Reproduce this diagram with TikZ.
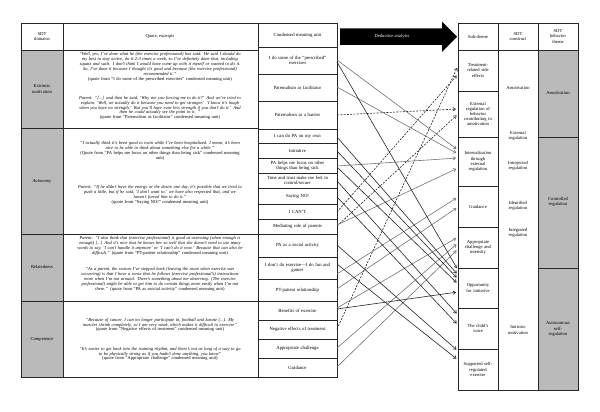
\documentclass[tikz,border=0pt]{standalone}
\usepackage{fontspec}
\setmainfont{Liberation Serif}
\usetikzlibrary{arrows.meta}
\newcommand\tcell[7]{\node[#6,anchor=north west,minimum width={(#4-#2)*1pt},minimum height={(#5-#3)*1pt}] (#1) at (#2,#3) {#7};}
\begin{document}
\begin{tikzpicture}[x=1pt,y=-1pt,
  mytl/.style={draw=black!85, line width=0.7pt},
  mybx/.style={draw=black!85, line width=0.7pt, inner sep=0pt, outer sep=0pt},
  myqt/.style={font=\fontsize{4.5}{4.85}\selectfont\itshape, align=center, text width=200pt, inner sep=0pt, text=black},
  mycmu/.style={mybx, font=\fontsize{4.7}{5.1}\selectfont, align=center, text width=74pt, text=black},
  mysbt/.style={mybx, font=\fontsize{4.6}{5.2}\selectfont, align=center, text width=38pt, text=black},
  mylb/.style={font=\fontsize{4.6}{5.2}\selectfont, align=center, inner sep=0pt, text=black},
  myar/.style={line width=0.6pt, shorten >=2pt, -{Straight Barb[length=2.5pt,width=3.5pt]}},
  mydk/.style={myar, draw=black!85},
  mygy/.style={myar, draw=black!55},
  myds/.style={myar, draw=black!85, dash pattern=on 2pt off 1.3pt}
]
\useasboundingbox (0,0) rectangle (600,412);
\fill[white] (0,0) rectangle (600,412);
% ---------- left table ----------
\fill[black!27] (21,50) rectangle (63,377);
\draw[mytl] (21,23) rectangle (258,377);
\draw[mytl] (63,23) -- (63,377);
\foreach \yy in {50,128,234,301} {\draw[mytl] (21,\yy) -- (258,\yy);}
\node[mylb] (h1) at (42,36.5) {SDT\\domains};
\node[mylb] (h2) at (160,36.5) {Quote, excerpts};
\node[mylb] (d1) at (42,89) {Extrinsic\\motivation};
\node[mylb, font=\fontsize{4.6}{5.2}\selectfont\itshape] (d2) at (42,181) {Autonomy};
\node[mylb] (d3) at (42,267) {Relatedness};
\node[mylb] (d4) at (42,339) {Competence};
% quotes
\node[myqt] (q1) at (160,67) {“Well, yes, I’ve done what he (the exercise professional) has said. He said I should do\\
my best to stay active, do it 2-3 times a week, so I’ve definitely done that, including\\
squats and such. I don’t think I would have come up with it myself or wanted to do it.\\
So, I’ve done it because I thought it’s good and because (the exercise professional)\\
recommended it.”\\
\upshape (quote from “I do some of the prescribed exercises” condensed meaning unit)};
\node[myqt] (q2) at (160,108) {Parent: “[...] and then he said, ‘Why are you forcing me to do it?’ And we’ve tried to\\
explain, ‘Well, we actually do it because you need to get stronger.’ ‘I know it’s tough\\
when you have no strength.’ But you’ll have even less strength if you don’t do it.’ And\\
then he could actually see the point in it. ”\\
\upshape (quote from “Paternalism as facilitator” condensed meaning unit)};
\node[myqt] (q3) at (160,151) {“I actually think it’s been good to train while I’ve been hospitalized. I mean, it’s been\\
nice to be able to think about something else for a while.”\\
\upshape (Quote from “PA helps me focus on other things than being sick” condensed meaning\\
\upshape unit)};
\node[myqt] (q4) at (160,195) {Parent: “If he didn’t have the energy or the desire one day, it’s possible that we tried to\\
push a little, but if he said, ‘I don’t want to,’ we have also respected that, and we\\
haven’t forced him to do it.”\\
\upshape (quote from “Saying NO!” condensed meaning unit)};
\node[myqt] (q5) at (160,246) {Parent: “I also think that (exercise professional) is good at assessing (when enough is\\
enough) [...] And it’s nice that he knows her so well that she doesn’t need to use many\\
words to say, ‘I can’t handle it anymore’ or ‘I can’t do it now.’ Because that can also be\\
difficult.” {\upshape (quote from “PT-patient relationship” condensed meaning unit)}};
\node[myqt] (q6) at (160,279.5) {“As a parent, the reason I’ve stepped back (leaving the room when exercise was\\
occurring) is that I have a sense that he follows (exercise professional’s) instructions\\
more when I’m not around. There’s something about me observing. (The exercise\\
professional) might be able to get him to do certain things more easily when I’m not\\
there.” {\upshape (quote from “PA as asocial activity” condensed meaning unit)}};
\node[myqt] (q7) at (160,325) {“Because of cancer, I can no longer participate in, football and karate (...). My\\
muscles shrink completely, so I am very weak, which makes it difficult to exercise”\\
\upshape (quote from “Negative effects of treatment” condensed meaning unit)};
\node[myqt] (q8) at (160,354) {“It’s easier to get back into the training rhythm, and there’s not as long of a way to go\\
to be physically strong as if you hadn’t done anything, you know”\\
\upshape (quote from “Appropriate challenge” condensed meaning unit)};
% ---------- condensed meaning units ----------
\tcell{c0}{258}{23}{337}{47}{mycmu}{Condensed meaning unit}
\tcell{c1}{258}{47}{337}{74}{mycmu}{I do some of the “prescribed”\\exercises}
\tcell{c2}{258}{74}{337}{101}{mycmu}{Paternalism as facilitator}
\tcell{c3}{258}{101}{337}{129}{mycmu}{Paternalism as a barrier}
\tcell{c4}{258}{129}{337}{143}{mycmu}{I can do PA on my own}
\tcell{c5}{258}{143}{337}{158}{mycmu}{Initiative}
\tcell{c6}{258}{158}{337}{173}{mycmu}{PA helps me focus on other\\things than being sick}
\tcell{c7}{258}{173}{337}{188}{mycmu}{Time and trust make me feel in\\control/secure}
\tcell{c8}{258}{188}{337}{204}{mycmu}{Saying NO!}
\tcell{c9}{258}{204}{337}{219}{mycmu}{I CAN’T}
\tcell{c10}{258}{219}{337}{234}{mycmu}{Mediating role of parents}
\tcell{c11}{258}{234}{337}{257}{mycmu}{PA as a social activity}
\tcell{c12}{258}{257}{337}{279}{mycmu}{I don’t do exercise—I do fun and\\games}
\tcell{c13}{258}{279}{337}{301}{mycmu}{PT-patient relationship}
\tcell{c14}{258}{301}{337}{320}{mycmu}{Benefits of exercise}
\tcell{c15}{258}{320}{337}{339}{mycmu}{Negative effects of treatment}
\tcell{c16}{258}{339}{337}{358}{mycmu}{Appropriate challenge}
\tcell{c17}{258}{358}{337}{377}{mycmu}{Guidance}
% ---------- big arrow ----------
\fill[black] (340,28.5) -- (442,28.5) -- (442,21.5) -- (457,36.75) -- (442,52) -- (442,45) -- (340,45) -- cycle;
\node[mylb, text=white] (da) at (392,36.75) {Deductive analysis};
% ---------- right table ----------
\fill[black!27] (538,50) rectangle (578,390);
\draw[mytl] (458,23) rectangle (578,390);
\draw[mytl] (498,23) -- (498,390);
\draw[mytl] (538,23) -- (538,390);
\draw[mytl] (458,50) -- (578,50);
\draw[mytl] (538,137) -- (578,137);
\draw[mytl] (538,268) -- (578,268);
\tcell{s0}{458}{23}{498}{50}{mysbt}{Sub-theme}
\tcell{s1}{458}{50}{498}{91}{mysbt}{Treatment-\\related side\\effects}
\tcell{s2}{458}{91}{498}{137}{mysbt}{External\\regulation of\\behavior\\contributing to\\amotivation}
\tcell{s3}{458}{137}{498}{186}{mysbt}{Internalization\\through\\external\\regulation}
\tcell{s4}{458}{186}{498}{227}{mysbt}{Guidance}
\tcell{s5}{458}{227}{498}{268}{mysbt}{Appropriate\\challenge and\\intensity}
\tcell{s6}{458}{268}{498}{308}{mysbt}{Opportunity\\for initiative}
\tcell{s7}{458}{308}{498}{349}{mysbt}{The child’s\\voice}
\tcell{s8}{458}{349}{498}{390}{mysbt}{Supported self-\\regulated\\exercise}
\node[mylb] (k0) at (518,36.5) {SDT\\construct};
\node[mylb] (k1) at (518,88) {Amotivation};
\node[mylb] (k2) at (518,136) {External\\regulation};
\node[mylb] (k3) at (518,166) {Introjected\\regulation};
\node[mylb] (k4) at (518,206) {Identified\\regulation};
\node[mylb] (k5) at (518,233) {Integrated\\regulation};
\node[mylb] (k6) at (518,330) {Intrinsic\\motivation};
\node[mylb] (b0) at (558,36.5) {SDT\\behavior\\theme};
\node[mylb] (b1) at (558,93) {Amotivation};
\node[mylb] (b2) at (558,202) {Controlled\\regulation};
\node[mylb] (b3) at (558,329) {Autonomous\\self-\\regulation};
% ---------- connectors ----------
% dashed
\draw[myds] (c3.east |- 0,115) -- (s2.west |- 0,109);
\draw[myds] (c9.east |- 0,212) -- (s1.west |- 0,74);
\draw[myds] (c10.east |- 0,226) -- (s2.west |- 0,114);
\draw[myds] (c15.east |- 0,329) -- (s1.west |- 0,66);
% gray
\draw[mygy] (c1.east |- 0,60) -- (s3.west |- 0,150);
\draw[mygy] (c2.east |- 0,87) -- (s3.west |- 0,154);
\draw[mygy] (c6.east |- 0,166) -- (s3.west |- 0,158);
\draw[mygy] (c10.east |- 0,225) -- (s3.west |- 0,168);
\draw[mygy] (c12.east |- 0,274) -- (s4.west |- 0,197);
\draw[mygy] (c13.east |- 0,289) -- (s4.west |- 0,207);
\draw[mygy] (c14.east |- 0,308) -- (s5.west |- 0,237);
\draw[mygy] (c16.east |- 0,348) -- (s5.west |- 0,243);
\draw[mygy] (c17.east |- 0,367) -- (s5.west |- 0,249);
% dark
\draw[mydk] (c1.east |- 0,62) -- (s6.west |- 0,270);
\draw[mydk] (c4.east |- 0,137) -- (s6.west |- 0,275);
\draw[mydk] (c5.east |- 0,151) -- (s6.west |- 0,279);
\draw[mydk] (c6.east |- 0,167) -- (s6.west |- 0,284);
\draw[mydk] (c14.east |- 0,309) -- (s6.west |- 0,292);
\draw[mydk] (c7.east |- 0,181) -- (s7.west |- 0,315);
\draw[mydk] (c8.east |- 0,197) -- (s7.west |- 0,325);
\draw[mydk] (c11.east |- 0,245) -- (s8.west |- 0,351);
\draw[mydk] (c12.east |- 0,264) -- (s8.west |- 0,360);
\end{tikzpicture}
\end{document}
